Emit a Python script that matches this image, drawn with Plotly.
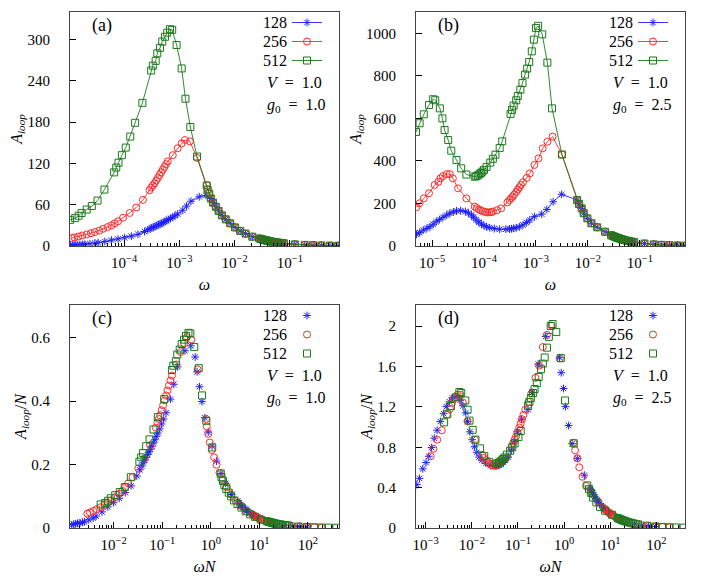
import plotly.graph_objects as go

# system sizes
sizes = [128, 256, 512]
colors = ['#1f1fff', '#ff2a2a', '#1b7a1b']
symbols = ['asterisk-open', 'circle-open', 'square-open']

# ---- g0 = 1.0 : omega, A_loop ----
w128_g1 = [1.07e-5, 1.17e-5, 1.29e-5, 1.41e-5, 1.58e-5, 1.78e-5, 1.95e-5, 2.40e-5, 2.95e-5, 3.39e-5,
           4.47e-5, 5.89e-5, 7.76e-5, 1.02e-4, 1.35e-4, 1.78e-4, 2.34e-4, 2.69e-4, 2.95e-4, 3.16e-4,
           3.39e-4, 3.63e-4, 3.89e-4, 4.17e-4, 4.47e-4, 4.79e-4, 5.13e-4, 5.50e-4, 5.89e-4, 6.31e-4,
           6.92e-4, 7.59e-4, 8.32e-4, 9.33e-4, 1.15e-3, 1.35e-3, 1.62e-3, 2.29e-3, 3.02e-3]
A128_g1 = [1.3, 1.5, 1.7, 1.9, 2.1, 2.3, 2.5, 3.3, 4.0, 4.8,
           6.5, 8.5, 10.2, 12.0, 14.3, 17.0, 21.0, 23.5, 25.0, 26.3,
           27.4, 28.5, 29.6, 30.7, 31.8, 33.0, 34.3, 35.6, 37.0, 38.3,
           40.0, 42.0, 44.0, 46.5, 52.0, 58.0, 65.0, 71.5, 73.5]

w256_g1 = [1.12e-5, 1.26e-5, 1.48e-5, 1.74e-5, 2.09e-5, 2.51e-5, 2.95e-5, 3.55e-5, 4.17e-5, 5.01e-5,
           5.89e-5, 6.76e-5, 7.76e-5, 9.55e-5, 1.26e-4, 1.66e-4, 2.19e-4, 2.88e-4, 3.09e-4, 3.31e-4,
           3.55e-4, 3.80e-4, 4.07e-4, 4.37e-4, 4.68e-4, 5.01e-4, 5.37e-4, 5.75e-4, 6.17e-4, 7.59e-4,
           9.33e-4, 1.10e-3, 1.26e-3, 1.55e-3, 2.09e-3, 3.13e-3, 3.24e-3, 3.47e-3]
A256_g1 = [11.6, 12.5, 13.8, 15.2, 16.8, 18.6, 20.3, 22.4, 25.0, 27.5,
           30.0, 33.0, 36.0, 41.0, 48.0, 56.0, 67.0, 81.0, 85.0, 88.0,
           91.0, 95.0, 99.0, 103.0, 107.0, 111.0, 115.0, 119.0, 123.0, 132.0,
           142.0, 149.0, 154.0, 152.0, 128.0, 88.0, 82.0, 76.0]

w512_g1 = [1.05e-5, 1.3e-5, 1.5e-5, 1.7e-5, 2.1e-5, 2.6e-5, 3.3e-5, 4.4e-5, 6.6e-5, 7.2e-5,
           7.9e-5, 9.1e-5, 1.07e-4, 1.29e-4, 1.58e-4, 2.14e-4, 3.09e-4, 3.31e-4, 3.72e-4, 3.98e-4,
           4.47e-4, 4.90e-4, 5.50e-4, 6.03e-4, 6.76e-4, 7.41e-4, 8.91e-4, 1.10e-3, 1.29e-3, 1.58e-3,
           2.09e-3, 3.13e-3, 3.24e-3, 3.47e-3]
A512_g1 = [38, 40.5, 44, 48, 53, 58, 66, 82, 107, 114,
           121, 132, 143, 159, 179, 208, 255, 262, 269, 280,
           288, 297, 304, 310, 315, 314, 292, 258, 214, 173,
           130, 88, 82, 76]

# high-frequency tail, common to all N
tail_w_g1 = [3.72e-3, 4.07e-3, 4.57e-3, 5.13e-3, 5.89e-3, 6.92e-3, 8.32e-3, 1.02e-2, 1.26e-2, 1.58e-2,
             2.09e-2, 0.028, 0.030, 0.032, 0.034, 0.036, 0.038, 0.040, 0.043, 0.046,
             0.050, 0.055, 0.060, 0.066, 0.072, 0.078, 0.123, 0.186, 0.263, 0.372,
             0.531, 0.75]
tail_A_g1 = [69, 63, 57, 51, 44.5, 38.7, 33, 27, 22, 18,
             13.5, 10.9, 10.1, 9.4, 8.9, 8.4, 7.9, 7.5, 7.0, 6.5,
             6.0, 5.5, 5.0, 4.6, 4.2, 3.9, 2.4, 1.6, 1.15, 0.8,
             0.57, 0.4]

# ---- g0 = 2.5 : omega, A_loop ----
w128_g2 = [5.01e-6, 5.75e-6, 6.76e-6, 7.94e-6, 9.12e-6, 1.05e-5, 1.20e-5, 1.38e-5, 1.62e-5, 1.91e-5,
           2.19e-5, 2.57e-5, 2.95e-5, 3.55e-5, 4.37e-5, 5.01e-5, 5.75e-5, 6.31e-5, 7.08e-5, 7.94e-5,
           8.91e-5, 1.00e-4, 1.12e-4, 1.29e-4, 1.58e-4, 2.00e-4, 2.63e-4, 3.09e-4, 3.39e-4, 3.72e-4,
           4.17e-4, 4.79e-4, 5.62e-4, 6.61e-4, 7.59e-4, 9.33e-4, 1.29e-3, 1.62e-3, 2.14e-3, 3.12e-3]
A128_g2 = [55, 63, 75, 83, 91, 102, 114, 124, 135, 145,
           154, 160, 165, 166, 162, 155, 146, 135, 122, 112,
           103, 96, 90, 86, 82, 79, 79, 80, 81, 83,
           86, 90, 99, 110, 122, 138, 150, 172, 208, 243]

w256_g2 = [5.01e-6, 5.75e-6, 6.92e-6, 8.71e-6, 1.12e-5, 1.32e-5, 1.45e-5, 1.62e-5, 1.91e-5, 2.19e-5,
           2.51e-5, 3.16e-5, 4.57e-5, 6.61e-5, 7.24e-5, 7.94e-5, 8.71e-5, 9.55e-5, 1.05e-4, 1.15e-4,
           1.26e-4, 1.38e-4, 1.48e-4, 1.78e-4, 2.14e-4, 2.82e-4, 3.09e-4, 3.31e-4, 3.55e-4, 3.80e-4,
           4.17e-4, 4.47e-4, 4.79e-4, 5.13e-4, 5.62e-4, 6.61e-4, 7.59e-4, 9.33e-4, 1.12e-3, 1.35e-3,
           1.66e-3, 2.09e-3, 3.16e-3]
A256_g2 = [182, 201, 224, 248, 287, 302, 318, 329, 338, 338,
           318, 271, 224, 185, 178, 172, 167, 163, 160, 158,
           158, 159, 162, 168, 177, 205, 216, 224, 232, 242,
           255, 265, 276, 287, 300, 320, 341, 381, 412, 459,
           490, 514, 430]

w512_g2 = [4.90e-6, 5.75e-6, 6.92e-6, 8.71e-6, 1.05e-5, 1.15e-5, 1.41e-5, 1.58e-5, 1.74e-5, 2.04e-5,
           2.34e-5, 2.95e-5, 3.63e-5, 4.57e-5, 6.61e-5, 7.08e-5, 7.59e-5, 8.13e-5, 8.71e-5, 9.33e-5,
           1.00e-4, 1.12e-4, 1.32e-4, 1.48e-4, 1.66e-4, 2.00e-4, 2.24e-4, 3.24e-4, 3.47e-4, 3.72e-4,
           4.17e-4, 4.47e-4, 5.01e-4, 5.50e-4, 6.17e-4, 6.76e-4, 7.41e-4, 8.32e-4, 9.12e-4, 1.00e-3,
           1.10e-3, 1.32e-3, 1.66e-3, 2.04e-3, 3.16e-3]
A512_g2 = [536, 577, 619, 663, 690, 685, 647, 600, 545, 498,
           448, 404, 365, 336, 326, 328, 332, 337, 343, 350,
           358, 372, 392, 410, 429, 461, 492, 621, 640, 660,
           685, 705, 735, 766, 806, 834, 865, 915, 970, 1025,
           1035, 995, 862, 647, 430]

tail_w_g2 = [6.22e-3, 6.76e-3, 7.59e-3, 8.32e-3, 9.77e-3, 1.17e-2, 1.51e-2, 2.14e-2, 0.028, 0.030,
             0.032, 0.034, 0.036, 0.038, 0.040, 0.043, 0.046, 0.050, 0.055, 0.060,
             0.066, 0.072, 0.078, 0.123, 0.186, 0.263, 0.372, 0.531, 0.75]
tail_A_g2 = [216, 197, 177, 154, 130, 107, 88, 67, 50.7, 47.3,
             44.4, 41.8, 39.4, 37.4, 35.5, 33.0, 30.9, 28.4, 25.8, 23.7,
             21.5, 19.7, 18.2, 11.5, 7.6, 5.4, 3.8, 2.7, 1.9]

series_g1 = [(w128_g1 + tail_w_g1, A128_g1 + tail_A_g1),
             (w256_g1 + tail_w_g1, A256_g1 + tail_A_g1),
             (w512_g1 + tail_w_g1, A512_g1 + tail_A_g1)]
series_g2 = [(w128_g2 + tail_w_g2, A128_g2 + tail_A_g2),
             (w256_g2 + tail_w_g2, A256_g2 + tail_A_g2),
             (w512_g2 + tail_w_g2, A512_g2 + tail_A_g2)]

# the page body has an 8px margin, so the figure is drawn 8px smaller
# and all positions below are given in window pixels
OFF = 8
W, H = 706 - OFF, 588 - OFF
FONT = 'Liberation Serif, DejaVu Serif, serif'


def px(x):
    return (x - OFF) / W


def py(y):
    return 1 - (y - OFF) / H


# panel boxes in window pixels: left, right, top, bottom
boxes = {'a': (70, 339, 12, 246), 'b': (416, 685, 12, 246),
         'c': (70, 339, 305, 528), 'd': (416, 685, 305, 528)}

fig = go.Figure()

panels = [('a', '', series_g1, False), ('b', '2', series_g2, False),
          ('c', '3', series_g1, True), ('d', '4', series_g2, True)]
for key, ax, series, scaled in panels:
    for i, (w, A) in enumerate(series):
        N = sizes[i]
        x = [v * N for v in w] if scaled else w
        y = [v / N for v in A] if scaled else A
        fig.add_trace(go.Scatter(
            x=x, y=y, xaxis='x' + ax, yaxis='y' + ax,
            mode='markers' if scaled else 'lines+markers',
            name='', legend='legend' + ax,
            line=dict(color=colors[i], width=0.9),
            marker=dict(symbol=symbols[i], size=6.5 if i == 0 else 7, color=colors[i],
                        line=dict(width=1)),
        ))

omega_ticks = {
    'a': [1e-4, 1e-3, 1e-2, 1e-1],
    'b': [1e-5, 1e-4, 1e-3, 1e-2, 1e-1],
    'c': [1e-2, 1e-1, 1, 10, 100],
    'd': [1e-3, 1e-2, 1e-1, 1, 10, 100],
}
omega_text = {
    'a': ['10<sup>−4</sup>', '10<sup>−3</sup>', '10<sup>−2</sup>', '10<sup>−1</sup>'],
    'b': ['10<sup>−5</sup>', '10<sup>−4</sup>', '10<sup>−3</sup>', '10<sup>−2</sup>', '10<sup>−1</sup>'],
    'c': ['10<sup>−2</sup>', '10<sup>−1</sup>', '10<sup>0</sup>', '10<sup>1</sup>', '10<sup>2</sup>'],
    'd': ['10<sup>−3</sup>', '10<sup>−2</sup>', '10<sup>−1</sup>', '10<sup>0</sup>', '10<sup>1</sup>', '10<sup>2</sup>'],
}
x_ranges = {'a': [-4.98, -0.11], 'b': [-5.31, -0.13], 'c': [-2.90, 2.64], 'd': [-3.21, 2.62]}
y_ranges = {'a': [0, 340], 'b': [0, 1100], 'c': [0, 0.703], 'd': [0, 2.21]}
y_ticks = {
    'a': ([0, 60, 120, 180, 240, 300], ['0', '60', '120', '180', '240', '300']),
    'b': ([0, 200, 400, 600, 800, 1000], ['0', '200', '400', '600', '800', '1000']),
    'c': ([0, 0.2, 0.4, 0.6], ['0', '0.2', '0.4', '0.6']),
    'd': ([0, 0.4, 0.8, 1.2, 1.6, 2.0], ['0', '0.4', '0.8', '1.2', '1.6', '2']),
}
x_titles = {'a': '<i>ω</i>', 'b': '<i>ω</i>', 'c': '<i>ωN</i>', 'd': '<i>ωN</i>'}
y_titles = {'a': '<i>A</i><sub><i>loop</i></sub>', 'b': '<i>A</i><sub><i>loop</i></sub>',
            'c': '<i>A</i><sub><i>loop</i></sub>/<i>N</i>', 'd': '<i>A</i><sub><i>loop</i></sub>/<i>N</i>'}
g0_vals = {'a': '1.0', 'b': '2.5', 'c': '1.0', 'd': '2.5'}

layout = dict(
    width=W, height=H, margin=dict(l=0, r=0, t=0, b=0),
    paper_bgcolor='white', plot_bgcolor='white',
    font=dict(family=FONT, size=15, color='black'),
    showlegend=True,
)
annotations = []
for key, ax, _, _ in panels:
    l, r, t, b = boxes[key]
    layout['xaxis' + ax] = dict(
        type='log', range=x_ranges[key], domain=[px(l), px(r)], anchor='y' + ax,
        tickmode='array', tickvals=omega_ticks[key], ticktext=omega_text[key],
        ticks='inside', ticklen=6, tickcolor='black', ticklabelstandoff=3,
        tickfont=dict(family=FONT, size=15),
        minor=dict(ticks='inside', ticklen=3, dtick='D1', tickcolor='black', showgrid=False),
        showgrid=False, zeroline=False, showline=True, linecolor='#444', linewidth=1, mirror=True,
        title=dict(text=x_titles[key], standoff=8, font=dict(family=FONT, size=16)),
        automargin=False,
    )
    layout['yaxis' + ax] = dict(
        range=y_ranges[key], domain=[py(b), py(t)], anchor='x' + ax,
        tickmode='array', tickvals=y_ticks[key][0], ticktext=y_ticks[key][1],
        ticks='inside', ticklen=6, tickcolor='black', ticklabelstandoff=16,
        tickfont=dict(family=FONT, size=15),
        showgrid=False, zeroline=False, showline=True, linecolor='#444', linewidth=1, mirror=True,
        title=dict(text=y_titles[key], standoff=0, font=dict(family=FONT, size=16)),
        automargin=False,
    )
    # key box: symbols from the legend, labels to their left as in gnuplot
    leg_top = t - 4
    layout['legend' + ax] = dict(
        x=px(r - 52), y=py(leg_top), xanchor='left', yanchor='top',
        bgcolor='rgba(0,0,0,0)', borderwidth=0, font=dict(family=FONT, size=8),
        itemclick=False, itemdoubleclick=False,
    )
    for i, N in enumerate(sizes):
        annotations.append(dict(
            x=px(r - 50), y=py(leg_top + 14.5 + 19 * i), xref='paper', yref='paper',
            xanchor='right', yanchor='middle', text=str(N), showarrow=False,
            font=dict(family=FONT, size=16),
        ))
    annotations.append(dict(
        x=px(r - 74), y=py(t + 70), xref='paper', yref='paper', xanchor='left', yanchor='middle',
        text='<i>V</i>&nbsp; =&nbsp; 1.0', showarrow=False, font=dict(family=FONT, size=16)))
    annotations.append(dict(
        x=px(r - 74), y=py(t + 93), xref='paper', yref='paper', xanchor='left', yanchor='middle',
        text='<i>g</i><sub>0</sub>&nbsp; =&nbsp; ' + g0_vals[key], showarrow=False,
        font=dict(family=FONT, size=16)))
    annotations.append(dict(
        x=px(l + 32), y=py(t + 13), xref='paper', yref='paper', xanchor='center', yanchor='middle',
        text='(' + key + ')', showarrow=False, font=dict(family=FONT, size=18)))

layout['annotations'] = annotations
fig.update_layout(**layout)

fig.write_html('out.html')
